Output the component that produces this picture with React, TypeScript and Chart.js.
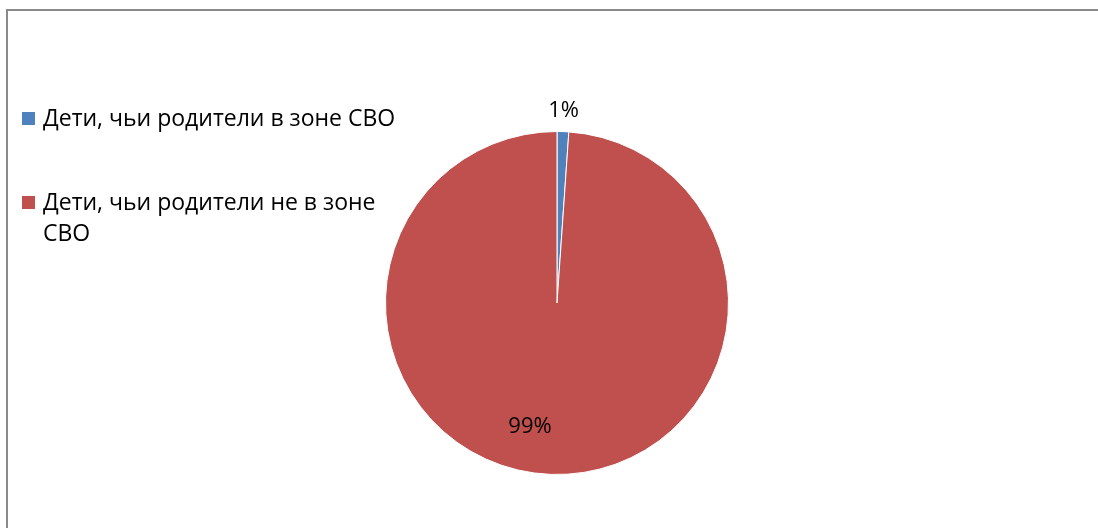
import { useEffect, useRef } from "react";
import { Chart, registerables } from "chart.js";

Chart.register(...registerables);

const categories = ["Дети, чьи родители в зоне СВО", "Дети, чьи родители не в зоне СВО"];
const legendLines = [["Дети, чьи родители в зоне СВО"], ["Дети, чьи родители не в зоне", "СВО"]];
const shares = [1.1, 98.9];
const percentLabels = ["1%", "99%"];
const colors = ["#4F81BD", "#C0504D"];

const FONT = '"Open Sans", "Noto Sans", sans-serif';

export default function App() {
  const ref = useRef<HTMLCanvasElement | null>(null);

  useEffect(() => {
    if (!ref.current) return;

    const labelPlugin = {
      id: "pctLabels",
      afterDatasetsDraw(chart: any) {
        const ctx = chart.ctx;
        const meta = chart.getDatasetMeta(0);
        const radiusFactor = [1.12, 0.74];
        const angleShift = [0, 0.18];
        ctx.save();
        ctx.font = `22px ${FONT}`;
        ctx.fillStyle = "#000";
        ctx.textAlign = "center";
        ctx.textBaseline = "middle";
        meta.data.forEach((arc: any, i: number) => {
          const p = arc.getProps(["x", "y", "startAngle", "endAngle", "outerRadius"], true);
          const mid = (p.startAngle + p.endAngle) / 2 + angleShift[i];
          const r = p.outerRadius * radiusFactor[i];
          ctx.fillText(percentLabels[i], p.x + Math.cos(mid) * r, p.y + Math.sin(mid) * r);
        });
        ctx.restore();
      },
    };

    const legendPlugin = {
      id: "sideLegend",
      afterDraw(chart: any) {
        const ctx = chart.ctx;
        ctx.save();
        ctx.font = `23px ${FONT}`;
        ctx.fillStyle = "#000";
        ctx.textAlign = "left";
        ctx.textBaseline = "middle";
        const rowY = [119, 203];
        const lineH = 31;
        legendLines.forEach((lines, i) => {
          ctx.fillStyle = colors[i];
          ctx.fillRect(22, rowY[i] - 7, 13, 13);
          ctx.fillStyle = "#000";
          lines.forEach((t, j) => ctx.fillText(t, 43, rowY[i] + j * lineH));
        });
        ctx.restore();
      },
    };

    const chart = new Chart(ref.current, {
      type: "pie",
      data: {
        labels: categories,
        datasets: [
          {
            data: shares,
            backgroundColor: colors,
            borderColor: "#ffffff",
            borderWidth: 1,
          },
        ],
      },
      options: {
        responsive: false,
        animation: false,
        layout: { padding: { left: 385, right: 369, top: 131, bottom: 53 } },
        plugins: {
          legend: { display: false },
          tooltip: { enabled: false },
          title: { display: false },
        },
      },
      plugins: [labelPlugin, legendPlugin],
    });
    return () => chart.destroy();
  }, []);

  return (
    <div style={{ position: "absolute", left: 0, top: 0, width: 1098, height: 528, overflow: "hidden", background: "#fff" }}>
      <div
        style={{
          position: "absolute",
          left: 6,
          top: 9,
          width: 1200,
          height: 700,
          borderTop: "2px solid #8a8a8a",
          borderLeft: "2px solid #8a8a8a",
          boxSizing: "border-box",
        }}
      />
      <canvas ref={ref} width={1098} height={528} style={{ position: "absolute", left: 0, top: 0 }} />
    </div>
  );
}
